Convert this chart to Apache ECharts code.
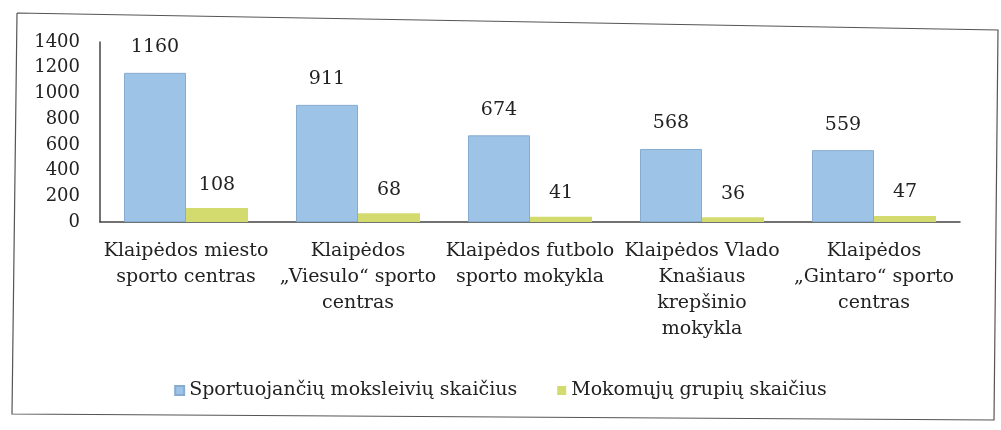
<!DOCTYPE html>
<html>
<head>
<meta charset="utf-8">
<script src="https://cdn.jsdelivr.net/npm/echarts@6/dist/echarts.min.js"></script>
<style>
  html, body { margin: 0; padding: 0; background: #fff; }
  #chart { width: 1001px; height: 430px; }
</style>
</head>
<body>
<div id="chart"></div>
<script>
var categories = [
  'Klaipėdos miesto\nsporto centras',
  'Klaipėdos\n„Viesulo“ sporto\ncentras',
  'Klaipėdos futbolo\nsporto mokykla',
  'Klaipėdos Vlado\nKnašiaus\nkrepšinio\nmokykla',
  'Klaipėdos\n„Gintaro“ sporto\ncentras'
];
var seriesNames = ['Sportuojančių moksleivių skaičius', 'Mokomųjų grupių skaičius'];
var pupils = [1160, 911, 674, 568, 559];
var groups = [108, 68, 41, 36, 47];

var colors = ['#9dc3e6', '#d3db6e'];
var font = '"DejaVu Serif", serif';

var myChart = echarts.init(document.getElementById('chart'));
var option = {
  color: colors,
  textStyle: { fontFamily: font },
  graphic: [
    {
      type: 'polyline',
      shape: { points: [[17, 13], [998, 30], [994, 420], [12, 414], [17, 13]] },
      style: { stroke: '#555', lineWidth: 1.2, fill: null }
    }
  ],
  grid: { left: 100, right: 41, top: 42, bottom: 208 },
  legend: {
    data: seriesNames,
    bottom: 25,
    left: 'center',
    itemWidth: 9,
    itemHeight: 9,
    itemGap: 40,
    icon: 'rect',
    textStyle: { fontFamily: font, fontSize: 19, color: '#222' }
  },
  xAxis: {
    type: 'category',
    data: categories,
    axisTick: { show: false },
    axisLine: { lineStyle: { color: '#444', width: 1.5 } },
    axisLabel: {
      interval: 0,
      margin: 16,
      fontFamily: font,
      fontSize: 19,
      lineHeight: 26,
      color: '#222'
    }
  },
  yAxis: {
    type: 'value',
    min: 0,
    max: 1400,
    interval: 200,
    splitLine: { show: false },
    axisTick: { show: false },
    axisLine: { show: true, lineStyle: { color: '#444', width: 1.5 } },
    axisLabel: {
      margin: 20, fontFamily: font, fontSize: 18, color: '#222',
      formatter: function (v) { return String(v); }
    }
  },
  series: [
    {
      name: seriesNames[0],
      type: 'bar',
      data: pupils,
      barWidth: 62,
      barGap: '0%',
      itemStyle: { color: colors[0], borderColor: '#86acd0', borderWidth: 1 },
      label: { show: true, position: 'top', distance: 16, fontFamily: font, fontSize: 19, color: '#222' }
    },
    {
      name: seriesNames[1],
      type: 'bar',
      data: groups,
      barWidth: 62,
      itemStyle: { color: colors[1] },
      label: { show: true, position: 'top', distance: 14, fontFamily: font, fontSize: 19, color: '#222' }
    }
  ]
};
myChart.setOption(option);
</script>
</body>
</html>
